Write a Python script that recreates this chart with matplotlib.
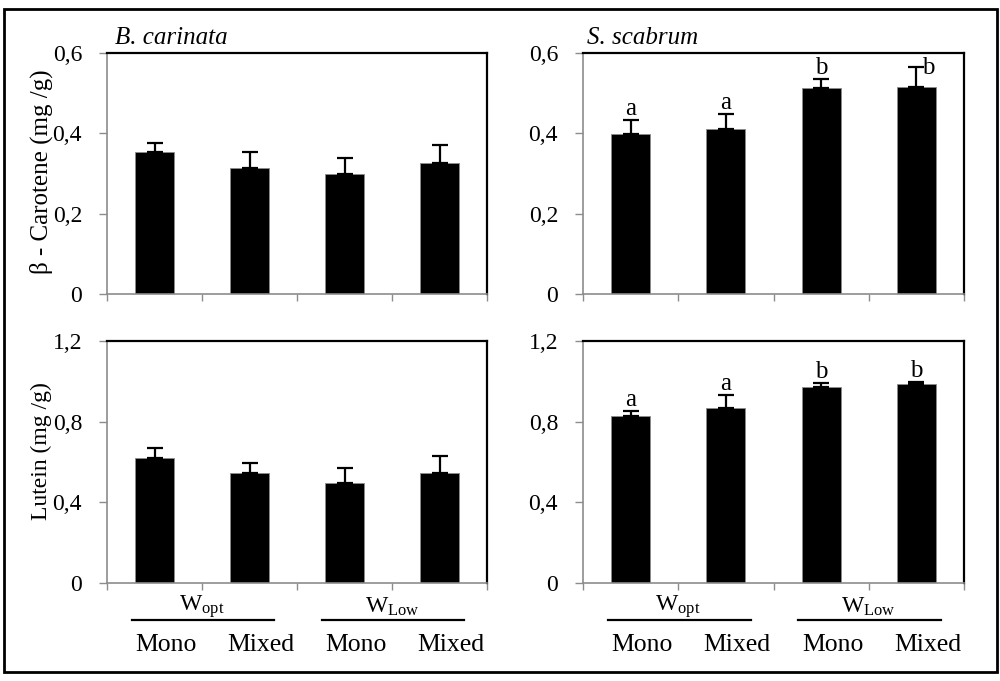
import numpy as np
import matplotlib
matplotlib.use("Agg")
import matplotlib.pyplot as plt
from matplotlib.patches import Rectangle

plt.rcParams['font.family'] = ['Liberation Serif', 'DejaVu Serif']
plt.rcParams['mathtext.fontset'] = 'custom'
plt.rcParams['mathtext.rm'] = 'Liberation Serif'
plt.rcParams['mathtext.it'] = 'Liberation Serif:italic'

# --- data ---
treatments = ["Mono", "Mixed", "Mono", "Mixed"]
groups = [r"W$_{\mathrm{opt}}$", r"W$_{\mathrm{Low}}$"]

carinata_carotene = [0.353, 0.314, 0.300, 0.327]
carinata_carotene_err = [0.022, 0.039, 0.039, 0.044]
scabrum_carotene = [0.399, 0.412, 0.512, 0.516]
scabrum_carotene_err = [0.035, 0.035, 0.023, 0.050]

carinata_lutein = [0.618, 0.545, 0.494, 0.544]
carinata_lutein_err = [0.050, 0.048, 0.074, 0.085]
scabrum_lutein = [0.828, 0.866, 0.973, 0.985]
scabrum_lutein_err = [0.027, 0.066, 0.017, 0.012]

scabrum_carotene_letters = ["a", "a", "b", "b"]
scabrum_carotene_letter_y = [0.434, 0.447, 0.535, 0.535]
scabrum_lutein_letters = ["a", "a", "b", "b"]
scabrum_lutein_letter_y = [0.854, 0.932, 0.990, 0.997]

carotene_ticks = [0, 0.2, 0.4, 0.6]
carotene_ticklabels = ["0", "0,2", "0,4", "0,6"]
lutein_ticks = [0, 0.4, 0.8, 1.2]
lutein_ticklabels = ["0", "0,4", "0,8", "1,2"]

FS = 17
GRAY = "#8c8c8c"

fig = plt.figure(figsize=(10, 6.81), dpi=100)
fig.patches.append(Rectangle((0.004, 1 - 672 / 681), 0.993, (672 - 9) / 681,
                             transform=fig.transFigure, fill=False,
                             edgecolor="black", linewidth=2))


def make_axes(rect, vals, errs, ticks, ticklabels, letters=None, letter_y=None,
              letter_dx=None, bottom_labels=False):
    ax = fig.add_axes(rect)
    x = np.arange(len(vals))
    ax.bar(x, vals, width=0.41, color="black", edgecolor=GRAY, linewidth=0.6, zorder=2)
    ax.errorbar(x, vals, yerr=[np.zeros(len(vals)), errs], fmt="none",
                ecolor="black", elinewidth=1.6, capsize=5.5, capthick=1.6, zorder=3)
    ax.set_xlim(-0.5, len(vals) - 0.5)
    ax.set_ylim(ticks[0], ticks[-1])
    ax.set_yticks(ticks)
    ax.set_yticklabels(ticklabels, fontsize=FS)
    ax.set_xticks(np.arange(-0.5, len(vals), 1.0))
    ax.set_xticklabels([])
    ax.tick_params(axis="y", length=6, width=1, color=GRAY, pad=12)
    ax.tick_params(axis="x", length=5, width=1, color=GRAY)
    for s in ("left", "bottom"):
        ax.spines[s].set_color(GRAY)
        ax.spines[s].set_linewidth(1.2)
    for s in ("top", "right"):
        ax.spines[s].set_color("black")
        ax.spines[s].set_linewidth(1.6)
    if letters is not None:
        for i, (lt, ly) in enumerate(zip(letters, letter_y)):
            dx = letter_dx[i] if letter_dx else 0
            ax.text(i + dx, ly, lt, ha="center", va="bottom", fontsize=FS + 1,
                    clip_on=False, zorder=4)
    if bottom_labels:
        tr = ax.get_xaxis_transform()
        for i, t in enumerate(treatments):
            ax.text(i + 0.12, -0.256, t, transform=tr, ha="center", va="center",
                    fontsize=FS + 1.5, clip_on=False)
        for g, name in enumerate(groups):
            c = 2 * g + 0.5
            ax.text(c, -0.099, name, transform=tr, ha="center", va="center",
                    fontsize=FS, clip_on=False)
            ax.plot([c - 0.74, c + 0.76], [-0.153, -0.153], transform=tr,
                    color="black", linewidth=1.6, clip_on=False)
    return ax


ax1 = make_axes([0.107, 1 - 294 / 681, 0.380, 241 / 681], carinata_carotene,
                carinata_carotene_err, carotene_ticks, carotene_ticklabels)
ax2 = make_axes([0.583, 1 - 294 / 681, 0.381, 241 / 681], scabrum_carotene,
                scabrum_carotene_err, carotene_ticks, carotene_ticklabels,
                scabrum_carotene_letters, scabrum_carotene_letter_y,
                [0, 0, 0, 0.12])
ax3 = make_axes([0.107, 1 - 583 / 681, 0.380, 242 / 681], carinata_lutein,
                carinata_lutein_err, lutein_ticks, lutein_ticklabels,
                bottom_labels=True)
ax4 = make_axes([0.583, 1 - 583 / 681, 0.381, 242 / 681], scabrum_lutein,
                scabrum_lutein_err, lutein_ticks, lutein_ticklabels,
                scabrum_lutein_letters, scabrum_lutein_letter_y,
                bottom_labels=True)

fig.text(0.115, 1 - 38 / 681, "B. carinata", style="italic", fontsize=FS + 1,
         ha="left", va="center")
fig.text(0.587, 1 - 38 / 681, "S. scabrum", style="italic", fontsize=FS + 1,
         ha="left", va="center")
fig.text(0.041, 1 - 172 / 681, "β - Carotene (mg /g)", rotation=90, fontsize=FS + 1,
         ha="center", va="center")
fig.text(0.041, 1 - 451 / 681, "Lutein (mg /g)", rotation=90, fontsize=FS,
         ha="center", va="center")

fig.savefig("out.png", dpi=100)
